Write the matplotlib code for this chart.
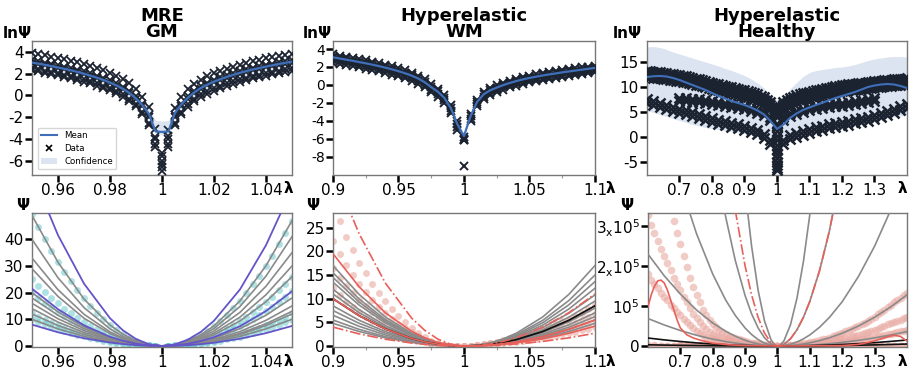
import numpy as np
import matplotlib
matplotlib.use('Agg')
import matplotlib.pyplot as plt
from matplotlib.patches import Patch
from matplotlib.lines import Line2D

plt.rcParams['font.family'] = ['DejaVu Sans']
plt.rcParams['mathtext.default'] = 'regular'

titles = ['MRE\nGM', 'Hyperelastic\nWM', 'Hyperelastic\nHealthy']
nan = np.nan

# ---------------- Panel 1 : MRE GM ----------------
lam1 = np.linspace(0.95, 1.05, 41)
gm_data_ln = [
    [3.90, 3.80, 3.69, 3.57, 3.45, 3.32, 3.19, 3.04, 2.88, 2.70, 2.51, 2.30, 2.07, 1.80, 1.49, 1.10, 0.60, -0.10, -1.10, -3.10, nan,
     -3.15, -1.15, -0.15, 0.55, 1.05, 1.44, 1.75, 2.02, 2.25, 2.46, 2.65, 2.83, 2.99, 3.14, 3.27, 3.40, 3.52, 3.64, 3.75, 3.85],
    [3.22, 3.12, 3.01, 2.89, 2.77, 2.64, 2.51, 2.36, 2.20, 2.02, 1.83, 1.62, 1.39, 1.12, 0.81, 0.42, -0.08, -0.78, -1.78, -3.78, nan,
     -3.75, -1.75, -0.75, -0.05, 0.45, 0.84, 1.15, 1.42, 1.65, 1.86, 2.05, 2.23, 2.39, 2.54, 2.67, 2.80, 2.92, 3.04, 3.15, 3.25],
    [3.00, 2.90, 2.79, 2.67, 2.55, 2.42, 2.29, 2.14, 1.98, 1.80, 1.61, 1.40, 1.17, 0.90, 0.59, 0.20, -0.30, -1.00, -2.00, -4.00, nan,
     -3.98, -1.98, -0.98, -0.28, 0.22, 0.61, 0.92, 1.19, 1.42, 1.63, 1.82, 2.00, 2.16, 2.31, 2.44, 2.57, 2.69, 2.81, 2.92, 3.02],
    [2.50, 2.40, 2.29, 2.17, 2.05, 1.92, 1.79, 1.64, 1.48, 1.30, 1.11, 0.90, 0.67, 0.40, 0.09, -0.30, -0.80, -1.50, -2.50, -4.50, nan,
     -4.50, -2.50, -1.50, -0.80, -0.30, 0.09, 0.40, 0.67, 0.90, 1.11, 1.30, 1.48, 1.64, 1.79, 1.92, 2.05, 2.17, 2.29, 2.40, 2.50],
    [2.30, 2.20, 2.09, 1.97, 1.85, 1.72, 1.59, 1.44, 1.28, 1.10, 0.91, 0.70, 0.47, 0.20, -0.11, -0.50, -1.00, -1.70, -2.70, -4.70, nan,
     -4.72, -2.72, -1.72, -1.02, -0.52, -0.13, 0.18, 0.45, 0.68, 0.89, 1.08, 1.26, 1.42, 1.57, 1.70, 1.83, 1.95, 2.07, 2.18, 2.28],
]
gm_center_lam = [1.0, 1.0, 1.0, 1.0, 1.0, 1.0]
gm_center_ln = [-5.3, -5.6, -6.0, -6.3, -6.6, -6.9]
gm_mean_ln = [3.02, 2.92, 2.81, 2.69, 2.57, 2.44, 2.31, 2.16, 2.00, 1.82, 1.63, 1.42, 1.19, 0.92, 0.61, 0.22, -0.28, -0.90, -1.70, -3.30, -3.35,
              -3.30, -1.60, -0.80, -0.20, 0.30, 0.69, 1.00, 1.27, 1.50, 1.71, 1.90, 2.08, 2.24, 2.39, 2.52, 2.65, 2.77, 2.89, 3.00, 3.10]
gm_conf_up = [0.35, 0.35, 0.35, 0.35, 0.35, 0.35, 0.35, 0.35, 0.35, 0.35, 0.35, 0.35, 0.35, 0.35, 0.35, 0.35, 0.35, 0.4, 0.6, 1.0, 1.0,
              1.0, 0.6, 0.4, 0.35, 0.35, 0.35, 0.35, 0.35, 0.35, 0.35, 0.35, 0.35, 0.35, 0.35, 0.35, 0.35, 0.35, 0.35, 0.35, 0.35]
gm_conf_dn = [0.35, 0.35, 0.35, 0.35, 0.35, 0.35, 0.35, 0.35, 0.35, 0.35, 0.35, 0.35, 0.35, 0.35, 0.35, 0.35, 0.35, 0.35, 0.3, 0.25, 0.25,
              0.25, 0.3, 0.35, 0.35, 0.35, 0.35, 0.35, 0.35, 0.35, 0.35, 0.35, 0.35, 0.35, 0.35, 0.35, 0.35, 0.35, 0.35, 0.35, 0.35]

lam1_line = [0.95, 0.96, 0.97, 0.98, 0.985, 0.99, 0.995, 1.0, 1.005, 1.01, 1.015, 1.02, 1.03, 1.04, 1.05]
gm_purple = [
    [65, 41.6, 23.4, 10.4, 5.85, 2.6, 0.65, 0, 0.59, 2.36, 5.31, 9.44, 21.2, 37.8, 59],
    [21.5, 13.8, 7.74, 3.44, 1.94, 0.86, 0.22, 0, 0.21, 0.82, 1.85, 3.28, 7.38, 13.1, 20.5],
    [8, 5.12, 2.88, 1.28, 0.72, 0.32, 0.08, 0, 0.08, 0.3, 0.68, 1.2, 2.7, 4.8, 7.5],
]
gm_gray = [
    [49, 31.4, 17.6, 7.84, 4.41, 1.96, 0.49, 0, 0.47, 1.88, 4.23, 7.52, 16.9, 30.1, 47],
    [40, 25.6, 14.4, 6.4, 3.6, 1.6, 0.4, 0, 0.41, 1.64, 3.69, 6.56, 14.8, 26.2, 41],
    [33, 21.1, 11.9, 5.28, 2.97, 1.32, 0.33, 0, 0.35, 1.4, 3.15, 5.6, 12.6, 22.4, 35],
    [29, 18.6, 10.4, 4.64, 2.61, 1.16, 0.29, 0, 0.3, 1.2, 2.7, 4.8, 10.8, 19.2, 30],
    [20, 12.8, 7.2, 3.2, 1.8, 0.8, 0.2, 0, 0.26, 1.04, 2.34, 4.16, 9.36, 16.6, 26],
    [18, 11.5, 6.48, 2.88, 1.62, 0.72, 0.18, 0, 0.18, 0.72, 1.62, 2.88, 6.48, 11.5, 18],
    [16, 10.2, 5.76, 2.56, 1.44, 0.64, 0.16, 0, 0.15, 0.6, 1.35, 2.4, 5.4, 9.6, 15],
    [14, 8.96, 5.04, 2.24, 1.26, 0.56, 0.14, 0, 0.13, 0.52, 1.17, 2.08, 4.68, 8.32, 13],
    [12, 7.68, 4.32, 1.92, 1.08, 0.48, 0.12, 0, 0.12, 0.48, 1.08, 1.92, 4.32, 7.68, 12],
    [10, 6.4, 3.6, 1.6, 0.9, 0.4, 0.1, 0, 0.1, 0.4, 0.9, 1.6, 3.6, 6.4, 10],
]

# ---------------- Panel 2 : Hyperelastic WM ----------------
lam2 = np.linspace(0.9, 1.1, 41)
wm_data_ln = [
    [3.40, 3.27, 3.14, 3.01, 2.87, 2.73, 2.58, 2.42, 2.25, 2.06, 1.85, 1.62, 1.36, 1.04, 0.62, 0.07, -0.43, -1.13, -2.28, -4.08, -5.8,
     -3.25, -1.65, -0.80, -0.35, -0.05, 0.23, 0.47, 0.68, 0.87, 1.03, 1.17, 1.30, 1.42, 1.53, 1.65, 1.75, 1.85, 1.95, 2.05, 2.15],
    [3.10, 2.97, 2.84, 2.71, 2.57, 2.43, 2.28, 2.12, 1.95, 1.76, 1.55, 1.32, 1.06, 0.74, 0.32, -0.23, -0.73, -1.43, -2.58, -4.38, -6.0,
     -3.5, -1.9, -1.05, -0.6, -0.3, -0.02, 0.22, 0.43, 0.62, 0.78, 0.92, 1.05, 1.17, 1.28, 1.40, 1.50, 1.60, 1.70, 1.80, 1.90],
    [2.80, 2.67, 2.54, 2.41, 2.27, 2.13, 1.98, 1.82, 1.65, 1.46, 1.25, 1.02, 0.76, 0.44, 0.02, -0.53, -1.03, -1.73, -2.88, -4.68, -6.1,
     -3.75, -2.15, -1.30, -0.85, -0.55, -0.27, -0.03, 0.18, 0.37, 0.53, 0.67, 0.80, 0.92, 1.03, 1.15, 1.25, 1.35, 1.45, 1.55, 1.65],
    [2.50, 2.37, 2.24, 2.11, 1.97, 1.83, 1.68, 1.52, 1.35, 1.16, 0.95, 0.72, 0.46, 0.14, -0.28, -0.83, -1.33, -2.03, -3.18, -4.98, -6.2,
     -4.0, -2.4, -1.55, -1.1, -0.8, -0.52, -0.28, -0.07, 0.12, 0.28, 0.42, 0.55, 0.67, 0.78, 0.90, 1.00, 1.10, 1.20, 1.30, 1.40],
]
wm_outlier_lam = [1.0]
wm_outlier_ln = [-9.1]
wm_mean_ln = [3.08, 2.95, 2.82, 2.69, 2.55, 2.41, 2.26, 2.10, 1.93, 1.74, 1.53, 1.30, 1.04, 0.72, 0.30, -0.25, -0.75, -1.45, -2.6, -4.4, -5.7,
              -3.5, -1.9, -1.05, -0.6, -0.3, -0.02, 0.22, 0.43, 0.62, 0.78, 0.92, 1.05, 1.17, 1.28, 1.40, 1.50, 1.60, 1.70, 1.80, 1.90]

lam2_line = [0.9, 0.92, 0.94, 0.96, 0.97, 0.98, 0.99, 1.0, 1.01, 1.02, 1.03, 1.04, 1.06, 1.08, 1.1]
wm_gray = [
    [17, 10.9, 6.12, 2.72, 1.53, 0.68, 0.17, 0, 0.17, 0.68, 1.53, 2.72, 6.12, 10.9, 17],
    [15.5, 9.92, 5.58, 2.48, 1.4, 0.62, 0.16, 0, 0.15, 0.6, 1.35, 2.4, 5.4, 9.6, 15],
    [14.5, 9.28, 5.22, 2.32, 1.31, 0.58, 0.15, 0, 0.14, 0.54, 1.22, 2.18, 4.9, 8.7, 13.6],
    [13.5, 8.64, 4.86, 2.16, 1.22, 0.54, 0.14, 0, 0.12, 0.49, 1.1, 1.95, 4.39, 7.81, 12.2],
    [12, 7.68, 4.32, 1.92, 1.08, 0.48, 0.12, 0, 0.11, 0.43, 0.97, 1.73, 3.89, 6.91, 10.8],
    [11, 7.04, 3.96, 1.76, 0.99, 0.44, 0.11, 0, 0.1, 0.38, 0.86, 1.52, 3.42, 6.08, 9.5],
    [8.5, 5.44, 3.06, 1.36, 0.77, 0.34, 0.09, 0, 0.08, 0.32, 0.72, 1.28, 2.88, 5.12, 8],
    [7.5, 4.8, 2.7, 1.2, 0.68, 0.3, 0.08, 0, 0.07, 0.28, 0.63, 1.12, 2.52, 4.48, 7],
    [6.5, 4.16, 2.34, 1.04, 0.59, 0.26, 0.07, 0, 0.06, 0.25, 0.56, 0.99, 2.23, 3.97, 6.2],
    [5.5, 3.52, 1.98, 0.88, 0.5, 0.22, 0.06, 0, 0.06, 0.22, 0.5, 0.88, 1.98, 3.52, 5.5],
    [4.8, 3.07, 1.73, 0.77, 0.43, 0.19, 0.05, 0, 0.05, 0.19, 0.43, 0.77, 1.73, 3.07, 4.8],
]
wm_black = [10, 6.4, 3.6, 1.6, 0.9, 0.4, 0.1, 0, 0.09, 0.34, 0.77, 1.36, 3.06, 5.44, 8.5]
wm_red = [
    [19.5, 12.5, 7.02, 3.12, 1.76, 0.78, 0.2, 0, 0.06, 0.22, 0.5, 0.88, 1.98, 3.52, 5.5],
    [10, 6.4, 3.6, 1.6, 0.9, 0.4, 0.1, 0, 0.04, 0.17, 0.38, 0.67, 1.51, 2.69, 4.2],
]
wm_red_dd = [
    [37, 23.7, 13.3, 5.92, 3.33, 1.48, 0.37, 0, 0.11, 0.44, 0.99, 1.76, 3.96, 7.04, 11],
    [4, 2.56, 1.44, 0.64, 0.36, 0.16, 0.04, 0, 0.03, 0.11, 0.24, 0.43, 0.97, 1.73, 2.7],
]

# ---------------- Panel 3 : Hyperelastic Healthy ----------------
lam3 = np.linspace(0.6, 1.4, 41)
hl_data_ln = [
    [13.3, 13.15, 13.0, 12.85, 12.65, 12.45, 12.2, 11.9, 11.6, 11.25, 10.9, 10.6, 10.3, 10.0, 9.7, 9.4, 9.05, 8.65, 8.0, 7.0, 5.2,
     7.1, 7.9, 8.4, 8.8, 9.15, 9.45, 9.7, 9.95, 10.2, 10.4, 10.6, 10.75, 10.9, 11.05, 11.2, 11.35, 11.5, 11.6, 11.7, 11.8],
    [12.7, 12.55, 12.4, 12.25, 12.05, 11.85, 11.6, 11.3, 11.0, 10.65, 10.3, 10.0, 9.7, 9.4, 9.1, 8.8, 8.45, 8.05, 7.4, 6.4, 4.8,
     6.5, 7.3, 7.8, 8.2, 8.55, 8.85, 9.1, 9.35, 9.6, 9.8, 10.0, 10.15, 10.3, 10.45, 10.6, 10.75, 10.9, 11.0, 11.1, 11.2],
    [12.1, 11.95, 11.8, 11.65, 11.45, 11.25, 11.0, 10.7, 10.4, 10.05, 9.7, 9.4, 9.1, 8.8, 8.5, 8.2, 7.85, 7.45, 6.8, 5.8, 4.4,
     5.9, 6.7, 7.2, 7.6, 7.95, 8.25, 8.5, 8.75, 9.0, 9.2, 9.4, 9.55, 9.7, 9.85, 10.0, 10.15, 10.3, 10.4, 10.5, 10.6],
    [nan, nan, nan, nan, nan, 7.9, 7.8, 7.7, 7.6, 7.4, 7.25, 7.1, 6.9, 6.7, 6.5, 6.25, 5.95, 5.55, 5.0, 4.1, 2.7,
     4.1, 4.9, 5.35, 5.7, 6.0, 6.25, 6.45, 6.65, 6.8, 6.95, 7.1, 7.25, 7.4, 7.6, 7.8, nan, nan, nan, nan, nan],
    [nan, nan, nan, nan, nan, 7.3, 7.2, 7.1, 7.0, 6.8, 6.65, 6.5, 6.3, 6.1, 5.9, 5.65, 5.35, 4.95, 4.4, 3.5, 2.1,
     3.5, 4.3, 4.75, 5.1, 5.4, 5.65, 5.85, 6.05, 6.2, 6.35, 6.5, 6.65, 6.8, 7.0, 7.2, nan, nan, nan, nan, nan],
    [7.7, 7.3, 6.9, 6.5, 6.1, 5.75, 5.4, 5.0, 4.6, 4.2, 3.8, 3.5, 3.2, 2.9, 2.6, 2.3, 1.9, 1.4, 0.7, -0.5, -2.6,
     -0.5, 0.4, 0.9, 1.3, 1.7, 2.0, 2.3, 2.6, 2.85, 3.1, 3.35, 3.6, 3.85, 4.15, 4.5, 4.9, 5.3, 5.75, 6.2, 6.6],
    [6.9, 6.5, 6.1, 5.7, 5.3, 4.95, 4.6, 4.2, 3.8, 3.4, 3.0, 2.7, 2.4, 2.1, 1.8, 1.5, 1.1, 0.6, -0.1, -1.3, -3.4,
     -1.3, -0.4, 0.1, 0.5, 0.9, 1.2, 1.5, 1.8, 2.05, 2.3, 2.55, 2.8, 3.05, 3.35, 3.7, 4.1, 4.5, 4.95, 5.4, 5.8],
]
# extra samples of the upper band between the main grid points
lam3_mid = np.concatenate([np.linspace(0.61, 0.99, 20), np.linspace(1.01, 1.39, 20)])
hl_data_mid_ln = [
    [13.22, 13.08, 12.92, 12.75, 12.55, 12.32, 12.05, 11.75, 11.42, 11.08, 10.75, 10.45, 10.15, 9.85, 9.55, 9.22, 8.85, 8.32, 7.5, 6.1,
     6.1, 7.5, 8.15, 8.6, 8.98, 9.3, 9.58, 9.82, 10.08, 10.3, 10.5, 10.68, 10.82, 10.98, 11.12, 11.28, 11.42, 11.55, 11.65, 11.75],
    [12.62, 12.48, 12.32, 12.15, 11.95, 11.72, 11.45, 11.15, 10.82, 10.48, 10.15, 9.85, 9.55, 9.25, 8.95, 8.62, 8.25, 7.72, 6.9, 5.6,
     5.65, 6.9, 7.55, 8.0, 8.38, 8.7, 8.98, 9.22, 9.48, 9.7, 9.9, 10.08, 10.22, 10.38, 10.52, 10.68, 10.82, 10.95, 11.05, 11.15],
    [12.02, 11.88, 11.72, 11.55, 11.35, 11.12, 10.85, 10.55, 10.22, 9.88, 9.55, 9.25, 8.95, 8.65, 8.35, 8.02, 7.65, 7.12, 6.3, 5.1,
     5.15, 6.3, 6.95, 7.4, 7.78, 8.1, 8.38, 8.62, 8.88, 9.1, 9.3, 9.48, 9.62, 9.78, 9.92, 10.08, 10.22, 10.35, 10.45, 10.55],
]
hl_center_lam = [1.0] * 16
hl_center_ln = [4.8, 4.4, 4.0, 2.6, 2.2, 1.2, 0.3, -0.6, -1.5, -2.4, -3.3, -4.2, -5.0, -5.6, -6.2, -6.6]
hl_mean_ln = [12.1, 12.25, 12.3, 12.2, 11.9, 11.5, 11.0, 10.5, 10.0, 9.5, 8.9, 8.3, 7.8, 7.3, 6.9, 6.5, 6.0, 5.4, 4.6, 3.3, 1.7,
              2.6, 3.9, 4.8, 5.5, 6.0, 6.5, 6.95, 7.45, 7.9, 8.3, 8.7, 9.1, 9.6, 10.1, 10.4, 10.6, 10.7, 10.6, 10.3, 9.9]
hl_conf_hi = [18.1, 18.2, 18.0, 17.6, 17.1, 16.7, 16.3, 15.9, 15.5, 15.1, 14.7, 14.3, 13.8, 13.4, 12.9, 12.4, 11.7, 10.9, 9.9, 8.4, 7.4,
              8.2, 9.7, 11.0, 12.2, 13.0, 13.4, 13.6, 13.8, 14.0, 14.1, 14.3, 14.6, 15.0, 15.4, 15.7, 15.9, 16.1, 16.2, 16.2, 16.1]
hl_conf_lo = [5.4, 5.0, 4.6, 4.2, 3.8, 3.4, 3.0, 2.6, 2.3, 2.0, 1.8, 1.6, 1.4, 1.2, 1.0, 0.8, 0.5, 0.2, -0.1, -0.4, -0.6,
              -0.3, 0.1, 0.4, 0.7, 1.0, 1.3, 1.6, 1.9, 2.1, 2.3, 2.5, 2.7, 2.9, 3.1, 3.4, 3.6, 3.9, 4.1, 4.3, 4.4]

# model curves, values in units of 1e5
lam3_line = [0.60, 0.65, 0.70, 0.75, 0.80, 0.84, 0.87, 0.90, 0.92, 0.94, 0.96, 0.98, 0.99, 1.00,
             1.01, 1.02, 1.04, 1.06, 1.08, 1.10, 1.13, 1.16, 1.20, 1.25, 1.30, 1.35, 1.40]
hl_gray = [
    [62.4, 47.8, 35.1, 24.4, 15.6, 9.98, 6.59, 3.9, 2.5, 1.4, 0.624, 0.156, 0.039, 0,
     0.033, 0.132, 0.528, 1.19, 2.11, 3.3, 5.58, 8.45, 13.2, 20.6, 29.7, 40.4, 52.8],
    [20.2, 15.4, 11.3, 7.88, 5.04, 3.23, 2.13, 1.26, 0.806, 0.454, 0.202, 0.0504, 0.0126, 0,
     0.0112, 0.0448, 0.179, 0.403, 0.717, 1.12, 1.89, 2.87, 4.48, 7.0, 10.1, 13.7, 17.9],
    [7.2, 5.51, 4.05, 2.81, 1.8, 1.15, 0.761, 0.45, 0.288, 0.162, 0.072, 0.018, 0.0045, 0,
     0.0028, 0.0111, 0.0445, 0.1, 0.178, 0.278, 0.47, 0.712, 1.11, 1.74, 2.5, 3.41, 4.45],
    [2.3, 1.76, 1.3, 0.9, 0.576, 0.369, 0.243, 0.144, 0.0922, 0.0518, 0.023, 0.0058, 0.0014, 0,
     0.0008, 0.0032, 0.0128, 0.0288, 0.0512, 0.08, 0.135, 0.205, 0.32, 0.5, 0.72, 0.98, 1.28],
    [0.688, 0.527, 0.387, 0.269, 0.172, 0.11, 0.0727, 0.043, 0.0275, 0.0155, 0.0069, 0.0017, 0.0004, 0,
     0.0002, 0.0009, 0.0036, 0.0081, 0.0144, 0.0225, 0.038, 0.0576, 0.09, 0.141, 0.203, 0.276, 0.36],
]
hl_black = [
    [0.2, 0.153, 0.1125, 0.078, 0.05, 0.032, 0.0211, 0.0125, 0.008, 0.0045, 0.002, 0.0005, 0.0001, 0,
     0.0001, 0.0004, 0.0015, 0.0034, 0.006, 0.0094, 0.0159, 0.0241, 0.0376, 0.0588, 0.0846, 0.115, 0.15],
    [0.03, 0.023, 0.017, 0.012, 0.0076, 0.0049, 0.0032, 0.0019, 0.0012, 0.0007, 0.0003, 0.0001, 0, 0,
     0, 0.0001, 0.0005, 0.0011, 0.002, 0.0031, 0.0052, 0.0079, 0.0124, 0.0194, 0.0279, 0.038, 0.0496],
]
hl_red_dd = [32, 24.5, 18, 12.5, 8, 5.12, 3.38, 2.0, 1.28, 0.72, 0.32, 0.08, 0.02, 0,
             0.0112, 0.0448, 0.179, 0.403, 0.717, 1.12, 1.89, 2.87, 4.48, 7.0, 10.1, 13.7, 17.9]
lam3_red = [0.60, 0.61, 0.62, 0.63, 0.64, 0.65, 0.66, 0.67, 0.68, 0.69, 0.70, 0.72, 0.74, 0.76, 0.78, 0.80,
            0.85, 0.90, 1.00, 1.10, 1.20, 1.25, 1.28, 1.30, 1.32, 1.34, 1.36, 1.38, 1.40]
hl_red = [0.98, 1.28, 1.5, 1.63, 1.65, 1.58, 1.4, 1.15, 0.9, 0.65, 0.45, 0.28, 0.2, 0.15, 0.11, 0.07,
          0.03, 0.01, 0.0, 0.005, 0.01, 0.04, 0.09, 0.13, 0.18, 0.23, 0.27, 0.24, 0.12]

# ---------------- ticks ----------------
x1_ticks = [0.96, 0.98, 1.0, 1.02, 1.04]
x1_labels = ['0.96', '0.98', '1', '1.02', '1.04']
x2_ticks = [0.9, 0.95, 1.0, 1.05, 1.1]
x2_labels = ['0.9', '0.95', '1', '1.05', '1.1']
x3_ticks = [0.7, 0.8, 0.9, 1.0, 1.1, 1.2, 1.3]
x3_labels = ['0.7', '0.8', '0.9', '1', '1.1', '1.2', '1.3']
y1t_ticks = [-6, -4, -2, 0, 2, 4]
y2t_ticks = [-8, -6, -4, -2, 0, 2, 4]
y3t_ticks = [-5, 0, 5, 10, 15]
y1b_ticks = [0, 10, 20, 30, 40]
y2b_ticks = [0, 5, 10, 15, 20, 25]
y3b_ticks = [0, 1, 2, 3]
y3b_labels = ['0', r'$10^{5}$', r'$2_{x}10^{5}$', r'$3_{x}10^{5}$']

DARK = '#1b2230'
BLUE = '#3f6fb8'
CONF = '#dbe4f0'
GRAY = '#8a8a8a'
PURPLE = '#6454c8'
TEAL = '#5cc6ca'
PINK = '#e9aaa2'
RED = '#e8605a'

fig = plt.figure(figsize=(9.11, 3.74), dpi=100)
pos_top = [(0.0351, 0.5321, 0.2854, 0.3583), (0.3655, 0.5321, 0.2876, 0.3583), (0.7102, 0.5321, 0.2854, 0.3583)]
pos_bot = [(0.0351, 0.0722, 0.2854, 0.3583), (0.3655, 0.0722, 0.2876, 0.3583), (0.7113, 0.0722, 0.2843, 0.3583)]
axt = [fig.add_axes(p) for p in pos_top]
axb = [fig.add_axes(p) for p in pos_bot]


def style(ax, xt, xtl, yt, ytl, xlim, ylim, yfs=11, xfs=11):
    ax.set_xlim(xlim)
    ax.set_ylim(ylim)
    ax.set_xticks(xt)
    ax.set_xticklabels(xtl, fontsize=xfs)
    ax.set_yticks(yt)
    ax.set_yticklabels(ytl, fontsize=yfs)
    ax.tick_params(direction='out', length=5, width=1.8, color='black', pad=1)
    for s in ax.spines.values():
        s.set_color('#777777')
        s.set_linewidth(1.0)


def marker_rows(ax, lam, rows, ms=5.5, mew=1.3):
    for r in rows:
        ax.plot(lam, r, ls='none', marker='x', ms=ms, mew=mew, color=DARK, zorder=3)


# ---- top panel 1
ax = axt[0]
m = np.array(gm_mean_ln)
ax.fill_between(lam1, m - np.array(gm_conf_dn), m + np.array(gm_conf_up), color=CONF, lw=0, zorder=1)
marker_rows(ax, lam1, gm_data_ln)
ax.plot(gm_center_lam, gm_center_ln, ls='none', marker='x', ms=5.5, mew=1.3, color=DARK, zorder=3)
ax.plot(lam1, gm_mean_ln, color=BLUE, lw=1.6, zorder=4)
style(ax, x1_ticks, x1_labels, y1t_ticks, [str(v) for v in y1t_ticks], (0.95, 1.05), (-7.3, 5.0))
handles = [Line2D([], [], color=BLUE, lw=1.5),
           Line2D([], [], ls='none', marker='x', color='k', ms=4, mew=1.2),
           Patch(facecolor=CONF, edgecolor='none')]
ax.legend(handles, ['Mean', 'Data', 'Confidence'], loc='lower left', fontsize=6.2, frameon=True,
          borderpad=0.4, handlelength=1.9, labelspacing=0.45, bbox_to_anchor=(0.005, 0.01))

# ---- top panel 2
ax = axt[1]
marker_rows(ax, lam2, wm_data_ln, ms=6, mew=1.4)
ax.plot(wm_outlier_lam, wm_outlier_ln, ls='none', marker='x', ms=5.5, mew=1.4, color=DARK, zorder=3)
ax.plot(lam2, wm_mean_ln, color=BLUE, lw=1.6, zorder=4)
style(ax, x2_ticks, x2_labels, y2t_ticks, [str(v) for v in y2t_ticks], (0.9, 1.1), (-10.05, 4.9), yfs=10)
ax.set_xticks([0.925, 0.975, 1.025, 1.075], minor=True)
ax.tick_params(which='minor', direction='out', length=2.5, width=0.8, color='#999999')

# ---- top panel 3
ax = axt[2]
ax.fill_between(lam3, hl_conf_lo, hl_conf_hi, color=CONF, lw=0, zorder=1)
marker_rows(ax, lam3, hl_data_ln, ms=6.5, mew=1.8)
marker_rows(ax, lam3_mid, hl_data_mid_ln, ms=6.5, mew=1.8)
ax.plot(hl_center_lam, hl_center_ln, ls='none', marker='x', ms=6.5, mew=1.8, color=DARK, zorder=3)
ax.plot(lam3, hl_mean_ln, color=BLUE, lw=1.5, zorder=4)
style(ax, x3_ticks, x3_labels, y3t_ticks, [str(v) for v in y3t_ticks], (0.6, 1.4), (-7.5, 19.3))

# ---- bottom panel 1
ax = axb[0]
for r in gm_data_ln:
    ax.plot(lam1, np.exp(np.array(r)), ls='none', marker='o', ms=5, mec='none', color=TEAL, alpha=0.5, zorder=2)
for r in gm_gray:
    ax.plot(lam1_line, r, color=GRAY, lw=1.2, zorder=3)
for r in gm_purple:
    ax.plot(lam1_line, r, color=PURPLE, lw=1.3, zorder=4)
style(ax, x1_ticks, x1_labels, y1b_ticks, [str(v) for v in y1b_ticks], (0.95, 1.05), (-0.4, 49.9))

# ---- bottom panel 2
ax = axb[1]
for r in wm_data_ln:
    ax.plot(lam2, np.exp(np.array(r)), ls='none', marker='o', ms=5, mec='none', color=PINK, alpha=0.6, zorder=2)
for r in wm_gray:
    ax.plot(lam2_line, r, color=GRAY, lw=1.2, zorder=3)
ax.plot(lam2_line, wm_black, color='#111111', lw=1.3, zorder=4)
for r in wm_red:
    ax.plot(lam2_line, r, color=RED, lw=1.2, zorder=4)
for r in wm_red_dd:
    ax.plot(lam2_line, r, color=RED, lw=1.2, ls='-.', zorder=4)
style(ax, x2_ticks, x2_labels, y2b_ticks, [str(v) for v in y2b_ticks], (0.9, 1.1), (-0.2, 28.1))
ax.set_xticks([0.925, 0.975, 1.025, 1.075], minor=True)
ax.tick_params(which='minor', direction='out', length=2.5, width=0.8, color='#999999')

# ---- bottom panel 3
ax = axb[2]
for r in hl_data_ln:
    ax.plot(lam3, np.exp(np.array(r)) / 1e5, ls='none', marker='o', ms=5.5, mec='none', color=PINK, alpha=0.6, zorder=2)
for r in hl_data_mid_ln:
    ax.plot(lam3_mid, np.exp(np.array(r)) / 1e5, ls='none', marker='o', ms=5.5, mec='none', color=PINK, alpha=0.6, zorder=2)
for r in hl_gray:
    ax.plot(lam3_line, r, color=GRAY, lw=1.2, zorder=3)
for r in hl_black:
    ax.plot(lam3_line, r, color='#111111', lw=1.2, zorder=4)
ax.plot(lam3_line, hl_red_dd, color=RED, lw=1.2, ls='-.', zorder=4)
ax.plot(lam3_red, hl_red, color=RED, lw=1.2, zorder=4)
style(ax, x3_ticks, x3_labels, y3b_ticks, y3b_labels, (0.6, 1.4), (-0.025, 3.33))

# ---- titles and axis labels
for ax, t in zip(axt, titles):
    ax.set_title(t, fontsize=13, fontweight='bold', linespacing=0.82, pad=3)

ylab_x_top = [-0.058, -0.061, -0.077]
ylab_x_bot = [-0.035, -0.076, -0.081]
lam_x = [(1.005, 'right'), (1.04, 'left'), (1.0, 'right')]
for i in range(3):
    axt[i].text(ylab_x_top[i], 1.0, 'lnΨ', transform=axt[i].transAxes, ha='center', va='bottom',
                fontsize=11, fontweight='bold')
    axb[i].text(ylab_x_bot[i], 1.0, 'Ψ', transform=axb[i].transAxes, ha='center', va='bottom',
                fontsize=11, fontweight='bold')
    xx, ha = lam_x[i]
    axt[i].text(xx, -0.1, 'λ', transform=axt[i].transAxes, ha=ha, va='center', fontsize=11, fontweight='bold')
    axb[i].text(xx, -0.11, 'λ', transform=axb[i].transAxes, ha=ha, va='center', fontsize=11, fontweight='bold')

fig.savefig('out.png', dpi=100)
